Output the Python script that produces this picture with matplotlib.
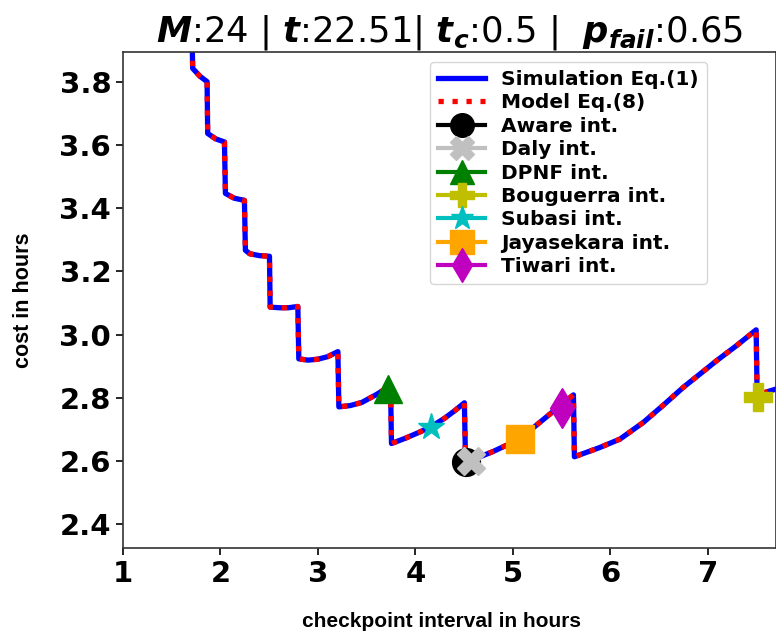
import numpy as np
import matplotlib
matplotlib.use("Agg")
import matplotlib.pyplot as plt

plt.rcParams['mathtext.fontset'] = 'custom'
plt.rcParams['mathtext.bf'] = 'DejaVu Sans:bold:italic'
plt.rcParams['mathtext.rm'] = 'DejaVu Sans'

# cost curve (interval in hours, cost in hours)
interval = [1.705, 1.715, 1.79, 1.863, 1.869, 1.95, 2.041, 2.051, 2.14, 2.246,
            2.256, 2.30, 2.40, 2.503, 2.510, 2.60, 2.70, 2.794, 2.804, 2.90,
            3.00, 3.10, 3.205, 3.215, 3.33, 3.45, 3.60, 3.745, 3.755, 3.90,
            4.05, 4.16, 4.30, 4.40, 4.503, 4.515, 4.60, 4.80, 5.07, 5.25,
            5.38, 5.50, 5.622, 5.632, 5.89, 6.10, 6.34, 6.55, 6.75, 7.09,
            7.30, 7.497, 7.507, 7.60, 7.75]
sim_cost = [4.00, 3.843, 3.818, 3.801, 3.637, 3.620, 3.610, 3.447, 3.432, 3.425,
            3.267, 3.256, 3.250, 3.248, 3.087, 3.085, 3.085, 3.089, 2.923, 2.919,
            2.922, 2.930, 2.946, 2.771, 2.775, 2.785, 2.810, 2.838, 2.655, 2.672,
            2.692, 2.708, 2.735, 2.758, 2.784, 2.596, 2.605, 2.630, 2.669, 2.715,
            2.748, 2.778, 2.809, 2.613, 2.642, 2.669, 2.722, 2.778, 2.833, 2.917,
            2.966, 3.015, 2.805, 2.818, 2.832]
model_cost = list(sim_cost)

# optimal intervals from the different methods
methods = ['Aware', 'Daly', 'DPNF', 'Bouguerra', 'Subasi', 'Jayasekara', 'Tiwari']
method_int = [4.52, 4.575, 3.718, 7.519, 4.164, 5.071, 5.506]
method_cost = [2.595, 2.598, 2.829, 2.801, 2.706, 2.669, 2.769]
markers = ['o', 'X', '^', 'P', '*', 's', 'd']
colors = ['k', 'silver', 'g', 'y', 'c', 'orange', 'm']

fig = plt.figure(figsize=(7.76, 6.37), dpi=100)
ax = fig.add_axes([0.1585, 0.1397, 0.8415, 0.7787])

ax.plot(interval, sim_cost, color='blue', linewidth=3.8, label='Simulation Eq.(1)')
ax.plot(interval, model_cost, color='red', linestyle=':', linewidth=3.8, label='Model Eq.(8)')
for name, xi, yi, mk, c in zip(methods, method_int, method_cost, markers, colors):
    ax.plot([xi], [yi], marker=mk, color=c, markersize=20, linewidth=3,
            label=name + ' int.', zorder=3)

ax.set_xlim(1.0, 1 + (776 - 123.7) / 97.35)
ax.set_ylim(2.324, 3.895)
ax.set_xticks([1, 2, 3, 4, 5, 6, 7])
ax.set_yticks([2.4, 2.6, 2.8, 3.0, 3.2, 3.4, 3.6, 3.8])
ax.tick_params(labelsize=21, length=5, width=1.2)
for lab in ax.get_xticklabels() + ax.get_yticklabels():
    lab.set_fontweight('bold')
for s in ax.spines.values():
    s.set_linewidth(1.2)
    s.set_color('#333333')

ax.set_xlabel('checkpoint interval in hours', family='Liberation Sans',
              fontweight='bold', fontsize=15, labelpad=20)
ax.xaxis.set_label_coords(0.487, -0.13)
ax.set_ylabel('cost in hours', family='Liberation Sans',
              fontweight='bold', fontsize=15.5, labelpad=18)
ax.set_title(r'$\mathbf{M}$:24 | $\mathbf{t}$:22.51| $\mathbf{t_c}$:0.5 |  $\mathbf{p_{fail}}$:0.65',
             fontsize=25.5, pad=6)

ax.legend(loc='upper right', bbox_to_anchor=(0.911, 0.903),
          bbox_transform=fig.transFigure, borderaxespad=0,
          prop={'weight': 'bold', 'size': 14.5}, markerscale=0.85,
          handlelength=2.33, labelspacing=0.22, handletextpad=0.8)

fig.savefig('out.png', dpi=100)
